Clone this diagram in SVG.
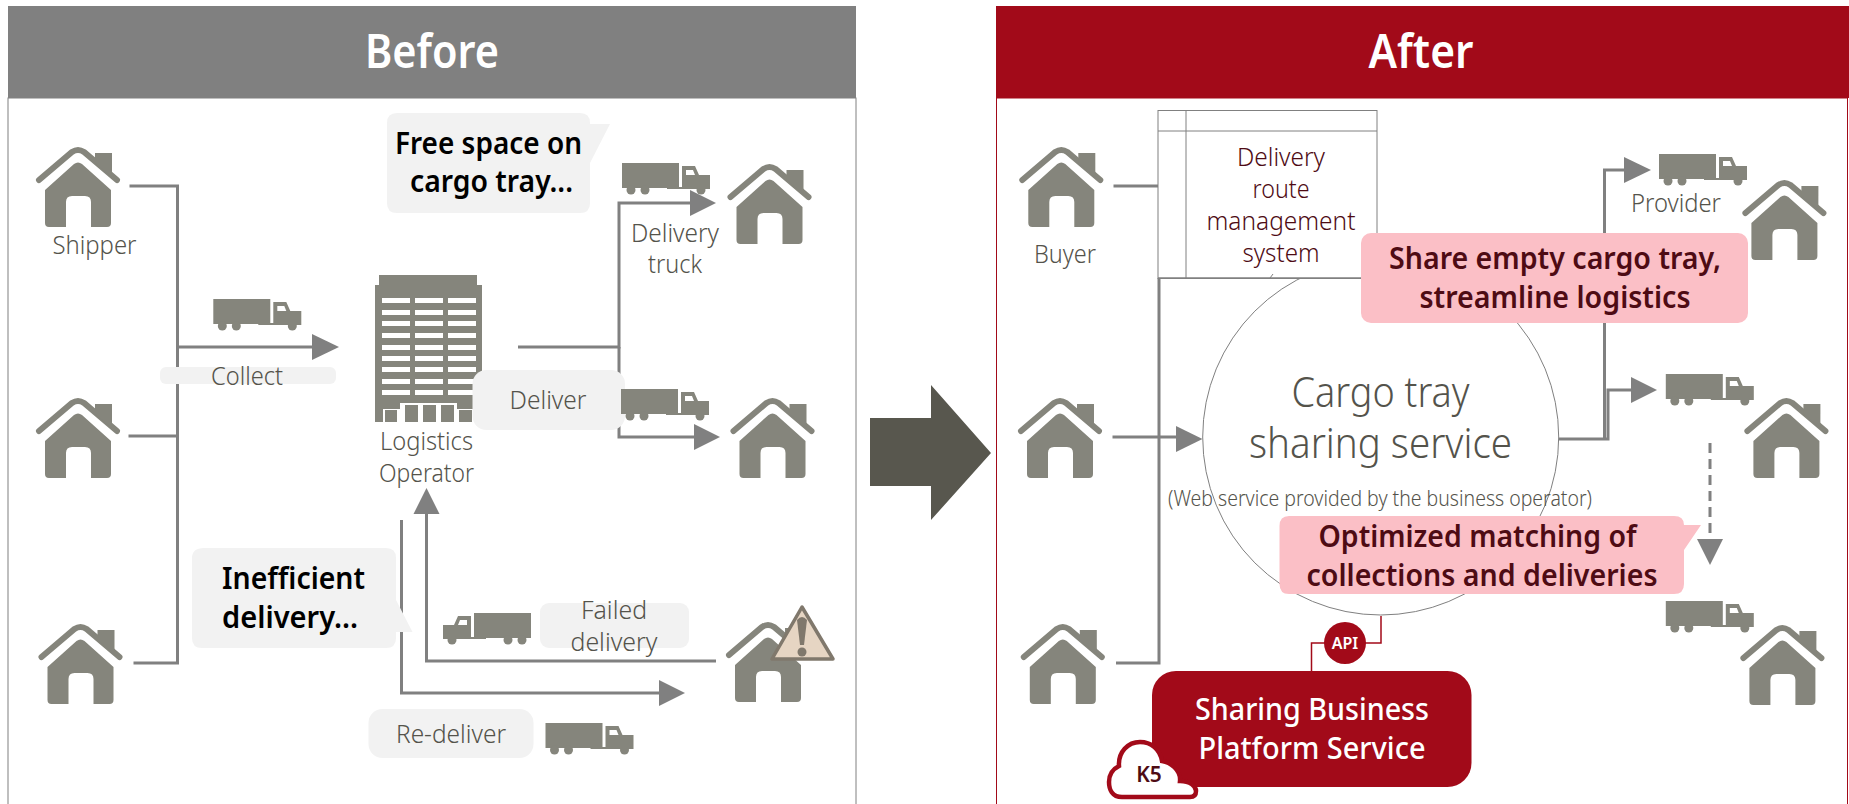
<svg xmlns="http://www.w3.org/2000/svg" width="1849" height="804" viewBox="0 0 1849 804">
<style>
text{font-family:"Noto Sans","Open Sans","Liberation Sans",sans-serif;text-anchor:middle}
.title{font-size:46px;font-weight:600;fill:#fff}
.lb{font-size:25px;font-weight:300;fill:#54534b}
.bd{font-size:30px;font-weight:600;fill:#000}
.rd{font-size:30px;font-weight:600;fill:#4e0b14}
.wh{font-size:30px;font-weight:500;fill:#fff}
.mr{font-size:25px;font-weight:300;fill:#4e0b14}
.ln{fill:none;stroke:#808080;stroke-width:3}
.ah{fill:#808080}
.gb{fill:#f2f2f2}
.pk{fill:#fbbfc6}
.ic{fill:#85857b}
</style>
<defs>
<filter id="soft" x="-5%" y="-5%" width="110%" height="110%"><feGaussianBlur stdDeviation="0.6"/></filter>
<symbol id="house" overflow="visible" viewBox="-45 0 90 82" width="90" height="82">
<g filter="url(#soft)">
<path d="M-39,33 L-6,5 Q0,1 6,5 L39,33" fill="none" stroke="#85857b" stroke-width="6" stroke-linecap="round"/>
<path class="ic" d="M17,6 H34 V30 L17,16 Z"/>
<path class="ic" d="M-4,17 Q0,14 4,17 L33,43 V76 Q33,80 29,80 H13 V55 Q13,49 7,49 H-6 Q-12,49 -12,55 V80 H-29 Q-33,80 -33,76 V43 Z"/>
</g>
</symbol>
<symbol id="truck" overflow="visible" viewBox="0 0 90 33" width="90" height="33">
<g filter="url(#soft)">
<path class="ic" d="M0,0 H57 V25 H0 Z"/>
<circle class="ic" cx="9" cy="27" r="4.500"/><circle class="ic" cx="23" cy="27" r="4.500"/><circle class="ic" cx="79" cy="27" r="4.500"/>
<path class="ic" d="M60,3 H73 L77,12 H88 V26 H45 V24 H60 Z"/>
<path fill="#fff" d="M64,7 H71 L73,12 H64 Z"/>
</g>
</symbol>
</defs>
<rect width="1849" height="804" fill="#fff"/>
<g id="panel-before">
<rect x="8" y="98" width="848" height="720" fill="#fff" stroke="#808080" stroke-width="1"/>
<rect x="8" y="6" width="848" height="92" fill="#808080"/>
<text class="title" x="432" y="68" textLength="134" lengthAdjust="spacingAndGlyphs">Before</text>
</g>
<g id="panel-after">
<rect x="996.500" y="98" width="851" height="720" fill="#fff" stroke="#a20a19" stroke-width="1"/>
<rect x="996" y="6" width="853" height="92" fill="#a20a19"/>
<text class="title" x="1421" y="68" textLength="105" lengthAdjust="spacingAndGlyphs">After</text>
</g>
<g id="cargo-service">
<circle cx="1380.700" cy="437" r="178" fill="#fff" stroke="#808080" stroke-width="1"/>
<text x="1380.500" y="407" font-size="43" font-weight="300" fill="#54534b" textLength="178" lengthAdjust="spacingAndGlyphs">Cargo tray</text>
<text x="1380.500" y="458" font-size="43" font-weight="300" fill="#54534b" textLength="263" lengthAdjust="spacingAndGlyphs">sharing service</text>
<text x="1380" y="506" font-size="22" font-weight="300" fill="#54534b" textLength="424" lengthAdjust="spacingAndGlyphs">(Web service provided by the business operator)</text>
</g>
<g id="route-system">
<rect x="1158" y="110.500" width="219" height="168" fill="#fff" stroke="#808080" stroke-width="1"/>
<path d="M1158,131 H1377 M1186,110 V278" fill="none" stroke="#808080" stroke-width="1"/>
<path d="M1270,278 L1273,274" fill="none" stroke="#808080" stroke-width="1"/>
<text class="mr" x="1281" y="166" textLength="88" lengthAdjust="spacingAndGlyphs">Delivery</text>
<text class="mr" x="1281" y="198" textLength="57" lengthAdjust="spacingAndGlyphs">route</text>
<text class="mr" x="1281" y="230" textLength="149" lengthAdjust="spacingAndGlyphs">management</text>
<text class="mr" x="1281" y="262" textLength="77" lengthAdjust="spacingAndGlyphs">system</text>
</g>
<g id="connectors">
<path class="ln" d="M129.500,186 H177.500 V663 H133.500 M128.500,436 H177.500"/>
<path class="ln" d="M177.500,347 H314"/><path class="ah" d="M312,334 L339,347 L312,360 Z"/>
<path class="ln" d="M518,347 H620.500 M619,347 V203 H692"/><path class="ah" d="M690,190 L716,203 L690,216 Z"/>
<path class="ln" d="M619,347 V437 H696"/><path class="ah" d="M694,424 L720,437 L694,450 Z"/>
<path class="ln" d="M716,661 H426.500 V512"/><path class="ah" d="M413.500,514 L426.500,488 L439.500,514 Z"/>
<path class="ln" d="M401.500,520 V693 H661"/><path class="ah" d="M659,680 L685,693 L659,706 Z"/>
<path class="ln" d="M1113.500,186 H1158 M1159,278 V663 H1116"/>
<path d="M1158,278 H1377" fill="none" stroke="#808080" stroke-width="1.500"/>
<path class="ln" d="M1112.500,437 H1178"/><path class="ah" d="M1176,426 L1202.500,439 L1176,452 Z"/>
<path class="ln" d="M1559,439 H1608 V390 H1633"/><path class="ah" d="M1631,377 L1657,390 L1631,403 Z"/>
<path class="ln" d="M1604.500,439 V170 H1626"/><path class="ah" d="M1624,157 L1651,170 L1624,183 Z"/>
<path class="ln" d="M1710,443 V540" stroke-dasharray="10 6"/><path class="ah" d="M1697,539 L1723,539 L1710,565 Z"/>
<path d="M1381,616 V643 H1330 M1325,643 H1311.500 V672" fill="none" stroke="#a20a19" stroke-width="1.500"/>
</g>
<g id="shipper"><use href="#house" x="33" y="147"/><text class="lb" x="94.500" y="254" textLength="84" lengthAdjust="spacingAndGlyphs">Shipper</text></g>
<g id="shipper-2"><use href="#house" x="33" y="398"/></g>
<g id="shipper-3"><use href="#house" x="35.500" y="624"/></g>
<g id="dest-1"><use href="#house" x="724.500" y="164"/></g>
<g id="dest-2"><use href="#house" x="727.500" y="398"/></g>
<g id="dest-3"><use href="#house" x="723" y="622"/>
<path d="M802,607 L772,659 H833 Z" fill="#e6d5c3" stroke="#80786c" stroke-width="3.500" stroke-linejoin="round"/>
<path d="M797,620 Q802,614 807,620 L804,645 H800 Z" fill="#80786c"/><circle cx="802" cy="652" r="4.500" fill="#80786c"/></g>
<g id="operator" filter="url(#soft)">
<path class="ic" d="M379,275 H477 V285 H482 V422 H375 V285 H379 Z"/>
<g fill="#fff">
<rect x="382" y="298" width="28" height="5"/><rect x="415" y="298" width="28" height="5"/><rect x="448" y="298" width="28" height="5"/>
<rect x="382" y="310" width="28" height="5"/><rect x="415" y="310" width="28" height="5"/><rect x="448" y="310" width="28" height="5"/>
<rect x="382" y="321" width="28" height="5"/><rect x="415" y="321" width="28" height="5"/><rect x="448" y="321" width="28" height="5"/>
<rect x="382" y="333" width="28" height="5"/><rect x="415" y="333" width="28" height="5"/><rect x="448" y="333" width="28" height="5"/>
<rect x="382" y="345" width="28" height="5"/><rect x="415" y="345" width="28" height="5"/><rect x="448" y="345" width="28" height="5"/>
<rect x="382" y="356" width="28" height="5"/><rect x="415" y="356" width="28" height="5"/><rect x="448" y="356" width="28" height="5"/>
<rect x="382" y="367" width="28" height="5"/><rect x="415" y="367" width="28" height="5"/><rect x="448" y="367" width="28" height="5"/>
<rect x="382" y="379" width="28" height="5"/><rect x="415" y="379" width="28" height="5"/><rect x="448" y="379" width="28" height="5"/>
<rect x="382" y="390" width="28" height="5"/><rect x="415" y="390" width="28" height="5"/><rect x="448" y="390" width="28" height="5"/>
<path d="M383,422 V409 H400 V403 H457 V409 H475 V422 Z"/>
</g>
<g class="ic"><rect x="385" y="410" width="12" height="12"/><rect x="405" y="405" width="13" height="17"/><rect x="423" y="405" width="13" height="17"/><rect x="441" y="405" width="13" height="17"/><rect x="459" y="410" width="13" height="12"/></g>
</g>
<g id="operator-label"><text class="lb" x="426.500" y="450" textLength="93" lengthAdjust="spacingAndGlyphs">Logistics</text><text class="lb" x="426.500" y="482" textLength="95" lengthAdjust="spacingAndGlyphs">Operator</text></g>
<g id="truck-collect"><use href="#truck" x="213.300" y="299"/>
<rect class="gb" x="160" y="367" width="176" height="17" rx="6"/><text class="lb" x="247" y="385" textLength="72" lengthAdjust="spacingAndGlyphs">Collect</text></g>
<g id="bubble-free"><path class="gb" d="M397,113 H580 Q590,113 590,123 V124 H610 L590,163 V203 Q590,213 580,213 H397 Q387,213 387,203 V123 Q387,113 397,113 Z"/>
<text class="bd" x="488.500" y="154" textLength="187" lengthAdjust="spacingAndGlyphs">Free space on</text><text class="bd" x="491.500" y="192" textLength="163" lengthAdjust="spacingAndGlyphs">cargo tray...</text></g>
<g id="truck-delivery"><use href="#truck" x="622" y="163"/>
<text class="lb" x="675" y="242" textLength="88" lengthAdjust="spacingAndGlyphs">Delivery</text><text class="lb" x="675" y="273" textLength="54" lengthAdjust="spacingAndGlyphs">truck</text></g>
<g id="bubble-deliver"><rect class="gb" x="472.500" y="370" width="152.500" height="60" rx="14"/><text class="lb" x="548" y="409" textLength="77" lengthAdjust="spacingAndGlyphs">Deliver</text></g>
<g id="truck-deliver"><use href="#truck" x="621" y="389"/></g>
<g id="bubble-inefficient"><path class="gb" d="M204,548 H386 Q396,548 396,558 V600 L412.500,632 L396,632 V638 Q396,648 386,648 H202 Q192,648 192,638 V558 Q192,548 204,548 Z"/>
<text class="bd" x="293.500" y="589" textLength="143" lengthAdjust="spacingAndGlyphs">Inefficient</text><text class="bd" x="290" y="628" textLength="136" lengthAdjust="spacingAndGlyphs">delivery...</text></g>
<g id="truck-failed"><use href="#truck" x="0" y="0" transform="translate(531,613) scale(-1,1)"/>
<rect class="gb" x="540" y="603" width="149" height="45" rx="9"/><text class="lb" x="614" y="619" textLength="66" lengthAdjust="spacingAndGlyphs">Failed</text><text class="lb" x="614" y="651" textLength="87" lengthAdjust="spacingAndGlyphs">delivery</text></g>
<g id="bubble-redeliver"><rect class="gb" x="368.500" y="709" width="165" height="49" rx="14"/><text class="lb" x="451" y="743" textLength="110" lengthAdjust="spacingAndGlyphs">Re-deliver</text></g>
<g id="truck-redeliver"><use href="#truck" x="545.500" y="723"/></g>
<path id="big-arrow" d="M870,418 H931 V385 L991,453 L931,520 V486 H870 Z" fill="#58574e"/>
<g id="buyer"><use href="#house" x="1016.300" y="147"/><text class="lb" x="1065" y="263" textLength="62" lengthAdjust="spacingAndGlyphs">Buyer</text></g>
<g id="buyer-2"><use href="#house" x="1015" y="398"/></g>
<g id="buyer-3"><use href="#house" x="1017.800" y="624"/></g>
<g id="provider-1"><use href="#house" x="1739.400" y="180"/><use href="#truck" x="1659" y="154"/><text class="lb" x="1676" y="212" textLength="90" lengthAdjust="spacingAndGlyphs">Provider</text></g>
<g id="provider-2"><use href="#house" x="1741.400" y="398"/><use href="#truck" x="1665.800" y="374"/></g>
<g id="provider-3"><use href="#house" x="1737.400" y="625"/><use href="#truck" x="1665.800" y="601"/></g>
<g id="callout-share"><rect class="pk" x="1361" y="233" width="387" height="90" rx="10"/>
<text class="rd" x="1555" y="269" textLength="332" lengthAdjust="spacingAndGlyphs">Share empty cargo tray,</text><text class="rd" x="1555" y="308" textLength="271" lengthAdjust="spacingAndGlyphs">streamline logistics</text></g>
<g id="callout-match"><path class="pk" d="M1289,516 H1674 Q1684,516 1684,525 H1701 L1684,550 V584 Q1684,594 1674,594 H1289 Q1279.500,594 1279.500,584 V526 Q1279.500,516 1289,516 Z"/>
<text class="rd" x="1477.500" y="547" textLength="318" lengthAdjust="spacingAndGlyphs">Optimized matching of</text><text class="rd" x="1482" y="586" textLength="351" lengthAdjust="spacingAndGlyphs">collections and deliveries</text></g>
<g id="api"><circle cx="1345" cy="643" r="21" fill="#a20a19"/><text x="1345" y="649" font-size="16" font-weight="600" fill="#fff">API</text></g>
<g id="platform"><rect x="1152" y="671" width="319.500" height="116" rx="24" fill="#a20a19"/>
<text class="wh" x="1312" y="720" textLength="234" lengthAdjust="spacingAndGlyphs">Sharing Business</text><text class="wh" x="1312" y="759" textLength="227" lengthAdjust="spacingAndGlyphs">Platform Service</text></g>
<g id="k5"><path d="M1122,797 C1112,797 1109,789 1109,782 C1109,774 1113,769 1119,766 C1118,752 1128,742 1140,742 C1151,742 1160,749 1162,761 C1170,762 1181,770 1180,781 C1190,781 1196,786 1196,791 C1196,795 1194,797 1190,797 Z" fill="#fff" stroke="#a20a19" stroke-width="4.500"/>
<text x="1149" y="782" font-size="21" font-weight="600" fill="#4e0b14">K5</text></g>
</svg>
